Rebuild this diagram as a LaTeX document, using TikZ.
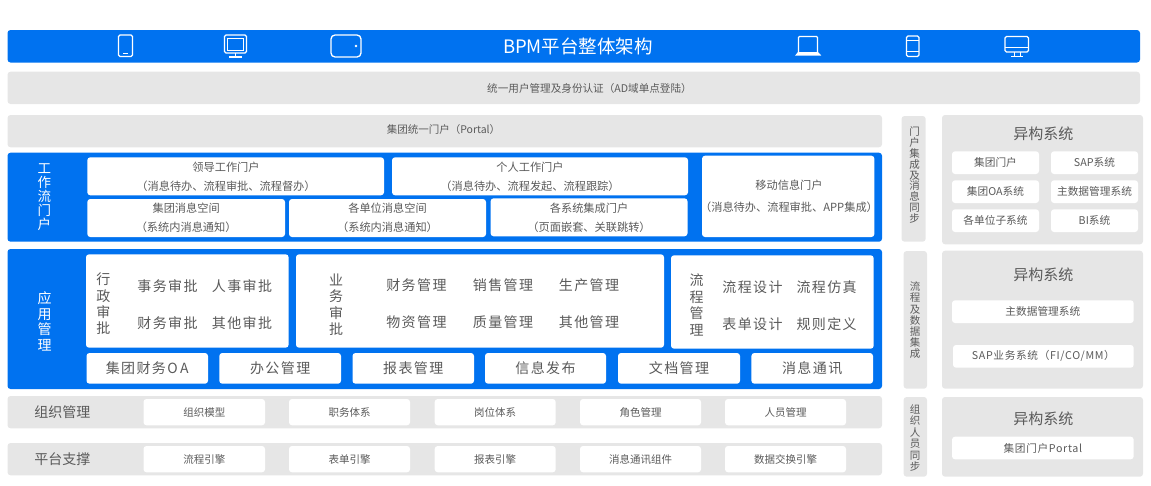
\documentclass[tikz,border=0pt]{standalone}
\usepackage{fontspec}
\setmainfont{Noto Sans CJK SC}
\newfontfamily\widefont[LetterSpace=10]{Noto Sans CJK SC}
\newfontfamily\semifont[LetterSpace=6]{Noto Sans CJK SC}
\definecolor{bluebar}{HTML}{0072F0}
\definecolor{graybar}{HTML}{E6E6E6}
\definecolor{txt}{HTML}{5A5A5A}
\newcommand{\fs}[2]{\fontsize{#1}{#2}\selectfont}
\newcommand{\bx}[6][]{\node[boxbase,#1,minimum width={(#4-#2)*1pt},minimum height={(#5-#3)*1pt}] (#6) at ({(#2+#4)/2},{(#3+#5)/2}) {};}
\newcommand{\tbx}[7][]{\node[boxbase,#1,minimum width={(#4-#2)*1pt},minimum height={(#5-#3)*1pt}] (#6) at ({(#2+#4)/2},{(#3+#5)/2}) {#7};}
\tikzset{
  boxbase/.style={rounded corners=3pt,inner sep=0pt,outer sep=0pt,align=center,text=txt,font=\fs{10.5}{18}},
  blue/.style={fill=bluebar},
  grayb/.style={fill=graybar},
  whiteb/.style={fill=white},
  two/.style={font=\fs{11.2}{19}},
  big/.style={font=\widefont\fs{14}{18}},
  small/.style={font=\fs{10.5}{14}},
  het/.style={font=\fs{10.7}{14}},
  hetw/.style={font=\semifont\fs{10.7}{14}},
  lab/.style={inner sep=0pt,outer sep=0pt,align=center,text=txt},
  vwhite/.style={lab,text=white},
  vert/.style={lab,font=\fs{10.5}{11.2}},
  vbig/.style={lab,font=\fs{14}{16.4}},
  item/.style={lab,font=\widefont\fs{14}{16}},
  ico/.style={draw=white,line width=1.3pt,rounded corners=1.5pt},
}
\begin{document}
\begin{tikzpicture}[x=1pt,y=-1pt]
\useasboundingbox (0,0) rectangle (1151,485);
% top bars
\bx[blue]{7.5}{30}{1140}{62.5}{titlebar}
\node[lab,text=white,font=\fs{18.5}{20}] (title) at (578,46.5) {BPM平台整体架构};
\bx[grayb]{7.5}{71.7}{1140}{104}{authbar}
\node[lab,font=\fs{10.6}{14}] (authtext) at (589.5,88) {统一用户管理及身份认证（AD域单点登陆）};
\bx[grayb]{7.5}{115}{882}{147.3}{portalbar}
\node[lab,font=\fs{10.5}{14}] (portaltext) at (443.5,129.3) {集团统一门户（Portal）};
% icons
\draw[ico] (118.5,35) rectangle (132.5,56.5);
\draw[white,line width=.8pt] (123,53.5) -- (128,53.5);
\draw[ico] (224.5,35) rectangle (246.5,53);
\draw[white,line width=.7pt] (227.5,38) rectangle (243.5,50);
\draw[white,line width=1.2pt] (235.5,53) -- (235.5,57) (229,57) -- (242,57);
\draw[ico,rounded corners=4pt] (331,35) rectangle (361,57);
\fill[white] (356,46) circle (1.4);
\draw[white,line width=1.3pt,rounded corners=1pt] (798.5,54) -- (798.5,36.5) -- (817.5,36.5) -- (817.5,54);
\draw[white,line width=.7pt] (800,52) -- (816,52);
\fill[white] (795,55.7) -- (798,52) -- (818,52) -- (821.4,55.7) -- cycle;
\draw[ico] (906.5,36) rectangle (919,56.5);
\draw[white,line width=.8pt] (906.5,40) -- (919,40) (906.5,51.5) -- (919,51.5);
\draw[ico] (1005,36.5) rectangle (1028.5,52);
\draw[white,line width=.8pt] (1005,47.5) -- (1028.5,47.5) (1014,52) -- (1014,56) (1020,52) -- (1020,56) (1011,56) -- (1023,56);
% workflow portal
\bx[blue]{7.5}{152.7}{882}{241.7}{wfpanel}
\node[vwhite,font=\fs{13.5}{14}] (wflabel) at (44.4,197.5) {工\\作\\流\\门\\户};
\bx[whiteb]{87.3}{157.3}{384}{195.3}{wf1}
\node[lab,two] (wf1t) at (226,177) {领导工作门户\\（消息待办、流程审批、流程督办）};
\bx[whiteb]{392}{157.3}{688}{195.3}{wf2}
\node[lab,two] (wf2t) at (530,177) {个人工作门户\\（消息待办、流程发起、流程跟踪）};
\tbx[whiteb,two]{87.3}{199}{285}{237}{wf3}{集团消息空间\\（系统内消息通知）}
\tbx[whiteb,two]{289}{199}{486}{237}{wf4}{各单位消息空间\\（系统内消息通知）}
\tbx[whiteb,two]{490.6}{198.3}{687.5}{236.3}{wf5}{各系统集成门户\\（页面嵌套、关联跳转）}
\bx[whiteb]{702}{155.7}{874.4}{237}{wf6}
\node[lab,font=\fs{11.2}{22}] (wf6t) at (789,196) {移动信息门户\\（消息待办、流程审批、APP集成）};
% application management
\bx[blue]{7.5}{249}{882}{389}{apppanel}
\node[vwhite,font=\fs{14}{15.6}] (applabel) at (44.6,321.5) {应\\用\\管\\理};
\bx[whiteb]{86}{254.3}{288.6}{347.7}{adminbox}
\bx[whiteb]{296}{254.3}{664}{347.7}{bizbox}
\bx[whiteb]{671}{255.3}{873.7}{348.7}{flowbox}
\node[vbig] (adminv) at (103.3,304) {行\\政\\审\\批};
\node[item] (a1) at (167.5,286.3) {事务审批};
\node[item] (a2) at (242,286.3) {人事审批};
\node[item] (a3) at (167.5,322.7) {财务审批};
\node[item] (a4) at (242,322.7) {其他审批};
\node[vbig] (bizv) at (336,304.7) {业\\务\\审\\批};
\node[item] (b1) at (416.4,285.6) {财务管理};
\node[item] (b2) at (503,285.6) {销售管理};
\node[item] (b3) at (589,285.6) {生产管理};
\node[item] (b4) at (416.4,322) {物资管理};
\node[item] (b5) at (503,322) {质量管理};
\node[item] (b6) at (589,322) {其他管理};
\node[vbig] (flowv) at (696.6,305) {流\\程\\管\\理};
\node[item] (f1) at (752.5,287) {流程设计};
\node[item] (f2) at (826.6,287) {流程仿真};
\node[item] (f3) at (752.5,323.7) {表单设计};
\node[item] (f4) at (826.6,323.7) {规则定义};
\tbx[whiteb,big]{86.5}{353}{208}{383.7}{m1}{集团财务O\hspace{2.5pt}A}
\tbx[whiteb,big]{219.3}{353}{341}{383.7}{m2}{办公管理}
\tbx[whiteb,big]{352.5}{353}{474}{383.7}{m3}{报表管理}
\tbx[whiteb,big]{485}{353}{606}{383.7}{m4}{信息发布}
\tbx[whiteb,big]{618}{353}{740}{383.7}{m5}{文档管理}
\tbx[whiteb,big]{751.4}{353}{873}{383.7}{m6}{消息通讯}
% organisation
\bx[grayb]{7.5}{396}{882}{428.3}{orgbar}
\node[lab,font=\fs{14}{16}] (orglabel) at (62.4,412) {组织管理};
\tbx[whiteb,small]{143.5}{399}{265}{425.3}{o1}{组织模型}
\tbx[whiteb,small]{289}{399}{410}{425.3}{o2}{职务体系}
\tbx[whiteb,small]{434.7}{399}{555.7}{425.3}{o3}{岗位体系}
\tbx[whiteb,small]{580}{399}{701}{425.3}{o4}{角色管理}
\tbx[whiteb,small]{725}{399}{846}{425.3}{o5}{人员管理}
% platform
\bx[grayb]{7.5}{443}{882}{475.3}{platbar}
\node[lab,font=\fs{14}{16}] (platlabel) at (62.4,459.5) {平台支撑};
\tbx[whiteb,small]{143.5}{446}{265}{472.3}{p1}{流程引擎}
\tbx[whiteb,small]{289}{446}{410}{472.3}{p2}{表单引擎}
\tbx[whiteb,small]{434.7}{446}{555.7}{472.3}{p3}{报表引擎}
\tbx[whiteb,small]{580}{446}{701}{472.3}{p4}{消息通讯组件}
\tbx[whiteb,small]{725}{446}{846}{472.3}{p5}{数据交换引擎}
% side strips
\bx[grayb]{901.5}{116}{925.7}{241.7}{side1}
\node[vert,font=\fs{10.5}{10.9}] (side1t) at (914.5,175) {门\\户\\集\\成\\及\\消\\息\\同\\步};
\bx[grayb]{903.6}{251}{927}{388.7}{side2}
\node[vert] (side2t) at (915,320.3) {流\\程\\及\\数\\据\\集\\成};
\bx[grayb]{903.6}{397}{927}{476.7}{side3}
\node[vert,font=\fs{10.5}{11.5}] (side3t) at (915,438) {组\\织\\人\\员\\同\\步};
% heterogeneous systems
\bx[grayb]{942}{115}{1143}{244.3}{het1}
\node[lab,font=\fs{15}{16}] (het1t) at (1043.4,133.3) {异构系统};
\tbx[whiteb,het]{952}{151.3}{1039}{174}{h1}{集团门户}
\tbx[whiteb,het]{1051}{151.3}{1138}{174}{h2}{SAP系统}
\tbx[whiteb,het]{952}{180.3}{1039}{203}{h3}{集团OA系统}
\tbx[whiteb,het]{1051}{180.3}{1138}{203}{h4}{主数据管理系统}
\tbx[whiteb,het]{952}{209.3}{1039}{232}{h5}{各单位子系统}
\tbx[whiteb,het]{1051}{209.3}{1138}{232}{h6}{BI系统}
\bx[grayb]{942}{250.7}{1143}{388.7}{het2}
\node[lab,font=\fs{15}{16}] (het2t) at (1043.4,275.2) {异构系统};
\tbx[whiteb,het]{952}{300.3}{1133.7}{323}{h7}{主数据管理系统}
\tbx[whiteb,hetw]{953}{345}{1133.7}{367.7}{h8}{SAP业务系统（FI/CO/MM）}
\bx[grayb]{942}{397}{1143}{476.7}{het3}
\node[lab,font=\fs{15}{16}] (het3t) at (1043.4,419) {异构系统};
\tbx[whiteb,hetw]{952}{436.7}{1133.7}{459.3}{h9}{集团门户Portal}
\end{tikzpicture}
\end{document}
